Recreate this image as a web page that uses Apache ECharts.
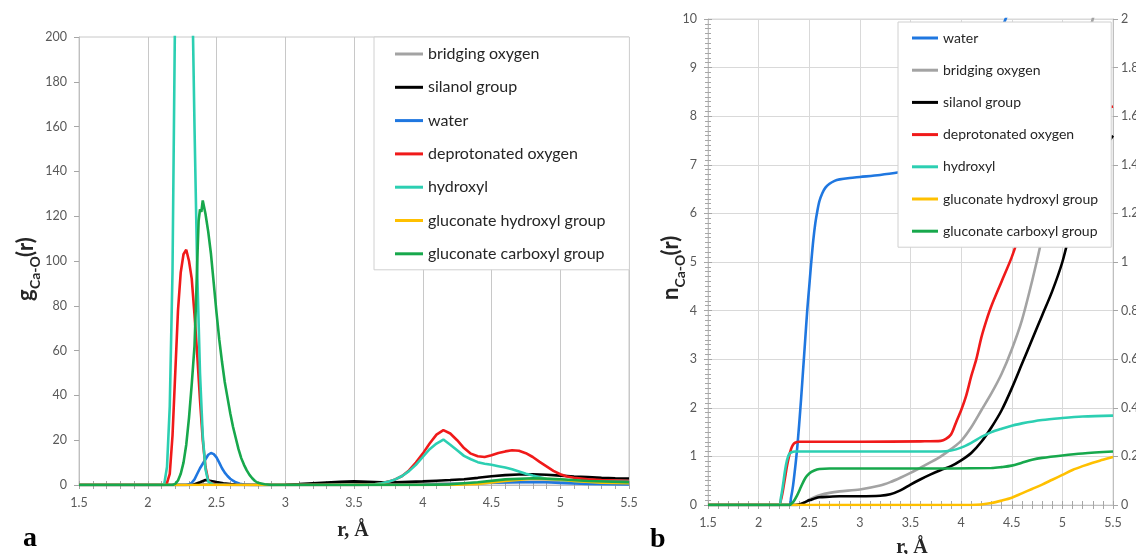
<!DOCTYPE html>
<html><head><meta charset="utf-8">
<script src="https://cdn.jsdelivr.net/npm/echarts@6/dist/echarts.min.js"></script>
<style>html,body{margin:0;padding:0;background:#fff}#c{width:1136px;height:554px}</style>
</head><body><div id="c"></div>
<script>
// ---------- legend / series names ----------
const namesA = ['bridging oxygen','silanol group','water','deprotonated oxygen','hydroxyl','gluconate hydroxyl group','gluconate carboxyl group'];
const namesB = ['water','bridging oxygen','silanol group','deprotonated oxygen','hydroxyl','gluconate hydroxyl group','gluconate carboxyl group'];

// ---------- panel a: g_Ca-O(r), [r, g] ----------
const gBridging = [[1.5,0],[2.3,0],[2.4,0.3],[2.5,0.2],[2.7,0],[3.0,0],[3.5,0.2],[4.0,0.5],[4.3,0.8],[4.6,1.2],[4.9,1.5],[5.2,1.3],[5.5,1.2]];
const gSilanol = [[1.5,0],[2.3,0],[2.34,0.3],[2.38,1.2],[2.42,2.2],[2.46,1.8],[2.5,1.3],[2.55,0.8],[2.6,0.4],[2.7,0.1],[2.8,0],[3.0,0.1],[3.1,0.4],[3.2,0.8],[3.3,1.1],[3.4,1.4],[3.5,1.6],[3.6,1.4],[3.7,1.2],[3.8,1.2],[3.9,1.4],[4.0,1.6],[4.1,1.9],[4.2,2.2],[4.3,2.6],[4.4,3.2],[4.5,3.9],[4.6,4.4],[4.7,4.7],[4.8,4.8],[4.9,4.6],[5.0,4.2],[5.1,3.8],[5.2,3.5],[5.3,3.2],[5.4,3.0],[5.5,2.9]];
const gWater = [[1.5,0],[2.28,0],[2.3,0.3],[2.32,1],[2.34,2.5],[2.36,5],[2.38,7.5],[2.4,9.5],[2.42,11.5],[2.44,13.5],[2.46,14.3],[2.48,13.8],[2.5,12.3],[2.52,10],[2.54,7.5],[2.56,5.5],[2.58,4],[2.6,2.8],[2.62,1.9],[2.64,1.2],[2.67,0.6],[2.7,0.2],[2.75,0],[3.6,0],[4.0,0.1],[4.3,0.5],[4.5,1.0],[4.7,1.3],[4.9,1.2],[5.0,0.9],[5.2,0.5],[5.5,0.3]];
const gDeprot = [[1.5,0],[2.12,0],[2.14,1],[2.16,5],[2.18,22],[2.2,50],[2.22,78],[2.24,95],[2.26,103],[2.28,105],[2.3,100],[2.32,92],[2.34,76],[2.36,58],[2.38,38],[2.4,20],[2.42,8],[2.44,2],[2.46,0.8],[2.5,0.2],[2.6,0],[3.5,0],[3.65,0.3],[3.7,0.8],[3.75,1.5],[3.8,2.5],[3.85,4],[3.9,6.5],[3.95,10],[4.0,14],[4.05,18.5],[4.1,22.5],[4.15,24.5],[4.2,23],[4.25,20],[4.3,16.5],[4.35,14],[4.4,12.8],[4.45,12.5],[4.5,13.3],[4.55,14.3],[4.6,15],[4.65,15.5],[4.7,15.3],[4.75,14.2],[4.8,12.5],[4.85,10.3],[4.9,8.3],[4.95,6.3],[5.0,4.8],[5.05,3.8],[5.1,3.2],[5.2,2.5],[5.3,2.2],[5.5,1.8]];
const gHydroxyl = [[1.5,0],[2.1,0],[2.12,0.5],[2.14,8],[2.16,35],[2.18,95],[2.2,220],[2.22,330],[2.24,390],[2.26,400],[2.28,370],[2.3,310],[2.32,235],[2.34,160],[2.36,95],[2.38,50],[2.4,22],[2.42,7],[2.44,1.5],[2.48,0.2],[2.6,0],[3.55,0],[3.65,0.3],[3.7,0.8],[3.75,1.5],[3.8,2.5],[3.85,4],[3.9,6.2],[3.95,9],[4.0,12.5],[4.05,16],[4.1,18.5],[4.15,20.3],[4.2,18],[4.25,15.5],[4.3,13],[4.35,11.5],[4.4,10.2],[4.45,9.5],[4.5,9],[4.55,8.4],[4.6,7.8],[4.65,7],[4.7,6],[4.75,5],[4.8,4.2],[4.85,3.5],[4.9,2.8],[5.0,2.2],[5.1,1.8],[5.3,1.5],[5.5,1.4]];
const gGlucHydroxyl = [[1.5,0],[4.2,0],[4.4,0.5],[4.6,1.8],[4.8,2.8],[5.0,2.5],[5.1,1.8],[5.3,1.0],[5.5,0.8]];
const gGlucCarboxyl = [[1.5,0],[2.18,0],[2.2,0.5],[2.22,2],[2.24,5],[2.26,10],[2.28,18],[2.3,30],[2.32,45],[2.34,62],[2.35,80],[2.36,100],[2.37,118],[2.38,123],[2.39,122],[2.4,127],[2.41,124],[2.42,121],[2.44,113],[2.46,103],[2.48,90],[2.5,77],[2.52,65],[2.54,55],[2.56,46],[2.58,39],[2.6,32],[2.62,26],[2.64,21],[2.66,16],[2.68,12],[2.7,9],[2.72,6.5],[2.74,4.5],[2.76,3],[2.78,1.8],[2.8,1],[2.85,0.3],[2.9,0],[4.0,0],[4.2,0.3],[4.4,1.2],[4.6,2.5],[4.8,3],[5.0,2.6],[5.2,1.8],[5.5,1.2]];

// ---------- panel b: n_Ca-O(r), [r, n] ----------
const nWater = [[1.5,0],[2.3,0],[2.32,0.15],[2.34,0.4],[2.36,0.75],[2.38,1.15],[2.4,1.65],[2.42,2.2],[2.44,2.8],[2.46,3.4],[2.48,4.0],[2.5,4.5],[2.52,5.0],[2.54,5.45],[2.56,5.8],[2.58,6.05],[2.6,6.25],[2.63,6.42],[2.66,6.53],[2.7,6.61],[2.75,6.67],[2.8,6.7],[2.9,6.73],[3.0,6.75],[3.2,6.79],[3.4,6.85],[3.5,6.89],[3.6,6.95],[3.8,7.2],[4.0,7.8],[4.2,8.8],[4.4,9.8],[4.6,10.8],[4.8,11.6],[5.0,12.3],[5.5,13.5]];
const nBridging = [[1.5,0],[2.38,0],[2.42,0.02],[2.46,0.06],[2.5,0.11],[2.55,0.16],[2.6,0.2],[2.7,0.25],[2.8,0.28],[3.0,0.32],[3.2,0.4],[3.3,0.47],[3.4,0.56],[3.5,0.66],[3.6,0.77],[3.7,0.88],[3.8,1.0],[3.9,1.15],[4.0,1.32],[4.1,1.6],[4.2,1.95],[4.3,2.3],[4.4,2.7],[4.5,3.2],[4.6,3.8],[4.7,4.6],[4.8,5.5],[4.9,6.5],[5.0,7.5],[5.1,8.4],[5.2,9.2],[5.3,10.0],[5.4,10.7],[5.5,11.3]];
const nSilanol = [[1.5,0],[2.36,0],[2.4,0.01],[2.44,0.04],[2.48,0.08],[2.52,0.11],[2.56,0.14],[2.6,0.16],[2.7,0.17],[2.8,0.18],[3.0,0.18],[3.2,0.19],[3.3,0.22],[3.4,0.3],[3.5,0.42],[3.6,0.53],[3.7,0.63],[3.8,0.72],[3.9,0.8],[4.0,0.92],[4.1,1.07],[4.2,1.3],[4.3,1.6],[4.4,1.95],[4.5,2.4],[4.6,2.9],[4.7,3.4],[4.8,3.9],[4.9,4.4],[5.0,5.0],[5.1,5.8],[5.2,6.4],[5.3,6.9],[5.4,7.3],[5.5,7.6]];
const nDeprot = [[1.5,0],[2.2,0],[2.22,0.1],[2.24,0.3],[2.26,0.55],[2.28,0.8],[2.3,1.0],[2.32,1.15],[2.34,1.24],[2.36,1.28],[2.4,1.3],[3.0,1.3],[3.6,1.31],[3.8,1.32],[3.85,1.36],[3.9,1.45],[3.95,1.7],[4.0,1.95],[4.05,2.25],[4.1,2.65],[4.15,3.0],[4.2,3.45],[4.25,3.8],[4.3,4.1],[4.4,4.6],[4.5,5.1],[4.6,5.7],[4.8,6.8],[5.0,7.6],[5.2,8.0],[5.5,8.2]];
const nHydroxyl = [[1.5,0],[2.2,0],[2.22,0.15],[2.24,0.4],[2.26,0.7],[2.28,0.92],[2.3,1.04],[2.32,1.08],[2.36,1.1],[3.0,1.1],[3.8,1.1],[3.9,1.12],[4.0,1.18],[4.1,1.28],[4.2,1.4],[4.3,1.5],[4.4,1.57],[4.5,1.63],[4.6,1.68],[4.8,1.75],[5.0,1.79],[5.2,1.82],[5.5,1.84]];
const nGlucHydroxyl = [[1.5,0],[4.1,0],[4.2,0.01],[4.3,0.04],[4.4,0.09],[4.5,0.15],[4.6,0.24],[4.7,0.33],[4.8,0.42],[4.9,0.52],[5.0,0.62],[5.1,0.72],[5.2,0.8],[5.3,0.87],[5.4,0.93],[5.5,0.99]];
const nGlucCarboxyl = [[1.5,0],[2.3,0],[2.34,0.06],[2.38,0.2],[2.42,0.38],[2.46,0.55],[2.5,0.65],[2.55,0.71],[2.6,0.74],[2.7,0.75],[3.5,0.75],[4.3,0.76],[4.4,0.78],[4.5,0.81],[4.6,0.87],[4.7,0.93],[4.8,0.97],[5.0,1.02],[5.2,1.06],[5.5,1.1]];

// ---------- styling ----------
const col = {
  'bridging oxygen':'#a3a3a3', 'silanol group':'#000000', 'water':'#1f77e0',
  'deprotonated oxygen':'#f01a1a', 'hydroxyl':'#2ccfb2', 'gluconate hydroxyl group':'#ffc000',
  'gluconate carboxyl group':'#17a84c'
};
const dataA = {'bridging oxygen':gBridging,'silanol group':gSilanol,'water':gWater,'deprotonated oxygen':gDeprot,'hydroxyl':gHydroxyl,'gluconate hydroxyl group':gGlucHydroxyl,'gluconate carboxyl group':gGlucCarboxyl};
const dataB = {'water':nWater,'bridging oxygen':nBridging,'silanol group':nSilanol,'deprotonated oxygen':nDeprot,'hydroxyl':nHydroxyl,'gluconate hydroxyl group':nGlucHydroxyl,'gluconate carboxyl group':nGlucCarboxyl};

const FONT = 'Lato, "Liberation Sans", sans-serif';
const labelCol = '#595959';
const tickCol = '#a6a6a6';

function mk(name, data, xi, yi, smooth) {
  return { type:'line', name, data, xAxisIndex:xi, yAxisIndex:yi, symbol:'none', smooth,
    color: col[name], lineStyle:{ color: col[name], width: 2.6 }, animation:false, z:2 };
}
const series = [];
namesA.forEach(n => series.push(mk(n, dataA[n], 0, 0, false)));
namesB.forEach(n => series.push(mk(n, dataB[n], 2, 1, 0.3)));

function xAx(grid, inside) {
  return { type:'value', gridIndex:grid, position:'bottom', min:1.5, max:5.5, interval:0.5,
    axisLine:{ show:!inside, lineStyle:{ color:'#bfbfbf', width:1 } },
    axisTick:{ show:true, inside, length:4, lineStyle:{ color:tickCol } },
    minorTick:{ show:true, splitNumber:5, length:4, lineStyle:{ color:tickCol } },
    axisLabel:{ show:!inside, margin:11, color:labelCol, fontSize:12.5, fontFamily:FONT },
    splitLine:{ show:!inside, lineStyle:{ color: grid===0 ? '#c8c8c8' : '#d9d9d9', width:1 } } };
}

const option = {
  backgroundColor:'#fff',
  animation:false,
  grid:[
    { left:79, top:37, width:550, height:448, show:true, borderColor:'#c8c8c8', borderWidth:1, containLabel:false, outerBoundsMode:'none' },
    { left:708, top:19, width:405, height:486, show:true, borderColor:'#d9d9d9', borderWidth:1, containLabel:false, outerBoundsMode:'none' }
  ],
  xAxis:[ xAx(0,false), xAx(0,true), xAx(1,false), xAx(1,true) ],
  yAxis:[
    { type:'value', gridIndex:0, min:0, max:200, interval:20,
      axisLine:{ show:true, lineStyle:{ color:'#bfbfbf' } },
      axisTick:{ show:true, length:5, lineStyle:{ color:tickCol } },
      axisLabel:{ margin:12, color:labelCol, fontSize:12.5, fontFamily:FONT },
      splitLine:{ show:false } },
    { type:'value', gridIndex:1, position:'left', min:0, max:10, interval:1,
      axisLine:{ show:true, lineStyle:{ color:'#bfbfbf' } },
      axisTick:{ show:true, length:4, lineStyle:{ color:tickCol } },
      minorTick:{ show:true, splitNumber:10, length:3, lineStyle:{ color:tickCol } },
      axisLabel:{ margin:11, color:labelCol, fontSize:12.5, fontFamily:FONT },
      splitLine:{ show:true, lineStyle:{ color:'#d9d9d9' } } },
    { type:'value', gridIndex:1, position:'left', min:0, max:10, interval:1,
      axisLine:{ show:false },
      axisTick:{ show:true, inside:true, length:4, lineStyle:{ color:tickCol } },
      minorTick:{ show:true, splitNumber:10, length:3, lineStyle:{ color:tickCol } },
      axisLabel:{ show:false }, splitLine:{ show:false } },
    { type:'value', gridIndex:1, position:'right', min:0, max:2, interval:0.2,
      axisLine:{ show:true, lineStyle:{ color:'#bfbfbf' } },
      axisTick:{ show:true, length:5, lineStyle:{ color:tickCol } },
      axisLabel:{ margin:8, color:labelCol, fontSize:12.5, fontFamily:FONT },
      splitLine:{ show:false } }
  ],
  legend:[
    { data:namesA, left:374, top:37, orient:'vertical', padding:[9,24,8,21], itemGap:17.3,
      itemWidth:28, itemHeight:3, icon:'rect', backgroundColor:'#fff', borderColor:'#d0d0d0', borderWidth:1,
      selectedMode:false, textStyle:{ fontSize:16, color:'#262626', fontFamily:FONT, lineHeight:16 } },
    { data:namesB, left:898, top:22, orient:'vertical', padding:[8,13,8,14], itemGap:16.2,
      itemWidth:26, itemHeight:3, icon:'rect', backgroundColor:'#fff', borderColor:'#d0d0d0', borderWidth:1,
      selectedMode:false, textStyle:{ fontSize:14, color:'#262626', fontFamily:FONT, lineHeight:16 } }
  ],
  graphic:[
    { type:'group', x:37, y:301, rotation:Math.PI/2, children:[
      { type:'text', x:0, y:0, style:{ text:'g', font:'bold 22px '+FONT, fill:'#262626', align:'left', verticalAlign:'bottom' } },
      { type:'text', x:12, y:5, style:{ text:'Ca-O', font:'bold 14px '+FONT, fill:'#262626', align:'left', verticalAlign:'bottom' } },
      { type:'text', x:44, y:0, style:{ text:'(r)', font:'bold 22px '+FONT, fill:'#262626', align:'left', verticalAlign:'bottom' } }
    ]},
    { type:'group', x:682, y:300, rotation:Math.PI/2, children:[
      { type:'text', x:0, y:0, style:{ text:'n', font:'bold 22px '+FONT, fill:'#262626', align:'left', verticalAlign:'bottom' } },
      { type:'text', x:12.5, y:5, style:{ text:'Ca-O', font:'bold 14px '+FONT, fill:'#262626', align:'left', verticalAlign:'bottom' } },
      { type:'text', x:44.5, y:0, style:{ text:'(r)', font:'bold 22px '+FONT, fill:'#262626', align:'left', verticalAlign:'bottom' } }
    ]},
    { type:'text', x:353, y:541, style:{ text:'r, Å', font:'bold 20px "Liberation Serif", serif', fill:'#262626', align:'center', verticalAlign:'bottom' } },
    { type:'text', x:912, y:558, style:{ text:'r, Å', font:'bold 20px "Liberation Serif", serif', fill:'#262626', align:'center', verticalAlign:'bottom' } },
    { type:'text', x:23, y:553, style:{ text:'a', font:'bold 28px "Liberation Serif", serif', fill:'#000', align:'left', verticalAlign:'bottom' } },
    { type:'text', x:650, y:554, style:{ text:'b', font:'bold 28px "Liberation Serif", serif', fill:'#000', align:'left', verticalAlign:'bottom' } }
  ],
  series
};
const chart = echarts.init(document.getElementById('c'), null, { renderer:'canvas' });
chart.setOption(option);
</script>
</body></html>
